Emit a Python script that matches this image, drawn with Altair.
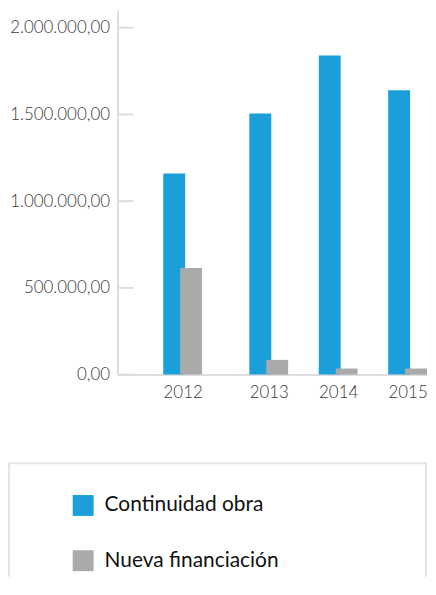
import altair as alt
import pandas as pd

years = [2012, 2013, 2014, 2015]
series = ["Continuidad obra", "Nueva financiación"]
continuidad_obra = [1160000, 1505000, 1840000, 1640000]
nueva_financiacion = [615000, 85000, 35000, 35000]
y_ticks = [0, 500000, 1000000, 1500000, 2000000]
colors = ["#1a9fda", "#aaaaaa"]

rows = []
for i, yr in enumerate(years):
    rows.append({"year": yr, "series": series[0], "value": continuidad_obra[i]})
    rows.append({"year": yr, "series": series[1], "value": nueva_financiacion[i]})
df = pd.DataFrame(rows)
ticks_df = pd.DataFrame({"value": y_ticks})
legend_df = pd.DataFrame({"series": series})

FONT = "Lato"
AXIS_GRAY = "#dddddd"
AXIS_X = 109  # y-axis position inside the view
PLOT_W = 420
color_scale = alt.Scale(domain=series, range=colors)
x_scale = alt.Scale(domain=[2011, 2012, 2013, 2015, 2016],
                    range=[AXIS_X, 174.5, 261, 400.5, PLOT_W], nice=False, zero=False)
y_scale = alt.Scale(domain=[0, 2100000], nice=False)

x_axis = alt.Axis(values=years, format="d", title=None, grid=False, ticks=False, tickSize=0,
                  domainColor=AXIS_GRAY, domainWidth=2, labelFont=FONT, labelFontSize=17,
                  labelColor="#3a3a3a", labelFontWeight=300, labelPadding=10)
y_axis = alt.Axis(values=y_ticks, format=",.2f", title=None, grid=False, ticks=False, tickSize=0,
                  offset=-AXIS_X,
                  domainColor=AXIS_GRAY, domainWidth=2, labelFont=FONT, labelFontSize=17,
                  labelColor="#3a3a3a", labelFontWeight=300, labelPadding=8)

ticks = alt.Chart(ticks_df).mark_rule(color=AXIS_GRAY, strokeWidth=2).encode(
    y=alt.Y("value:Q", scale=y_scale, axis=y_axis),
    x=alt.value(AXIS_X),
    x2=alt.value(AXIS_X + 16),
)

base = alt.Chart(df)
enc = dict(
    x=alt.X("year:Q", scale=x_scale, axis=x_axis),
    y=alt.Y("value:Q", scale=y_scale, axis=y_axis),
    color=alt.Color("series:N", scale=color_scale, legend=None),
)
blue = base.transform_filter(alt.datum.series == series[0]).mark_bar(width=22, xOffset=-8.5).encode(**enc)
gray = base.transform_filter(alt.datum.series == series[1]).mark_bar(width=22, xOffset=8.5).encode(**enc)
main = alt.layer(ticks, blue, gray).properties(width=PLOT_W, height=366)

LEG_W, LEG_H = 419, 114
leg_base = alt.Chart(legend_df).encode(
    y=alt.Y("series:N", scale=alt.Scale(type="point", domain=series, range=[42.5, 98], padding=0), axis=None)
)
swatches = leg_base.mark_square(size=441, opacity=1).encode(
    x=alt.value(74.5),
    color=alt.Color("series:N", scale=color_scale, legend=None),
)
labels = leg_base.mark_text(align="left", baseline="middle", font=FONT, fontSize=21, color="#111111").encode(
    x=alt.value(96),
    text="series:N",
)
legend_chart = alt.layer(swatches, labels).properties(
    width=LEG_W, height=LEG_H,
    view=alt.ViewBackground(stroke="#e4e4e4", strokeWidth=2,
                            strokeDash=[LEG_W + LEG_H, LEG_W, LEG_H]),
)

chart = alt.vconcat(main, legend_chart, spacing=61).properties(
    padding={"top": 0, "left": 0, "right": 0, "bottom": 0}
).configure(
    locale=alt.Locale(number=alt.NumberLocale(decimal=",", thousands=".", grouping=[3], currency=["", "€"]))
).configure_view(stroke="transparent")

chart.save("out.html", embed_options={"renderer": "svg", "actions": False})
